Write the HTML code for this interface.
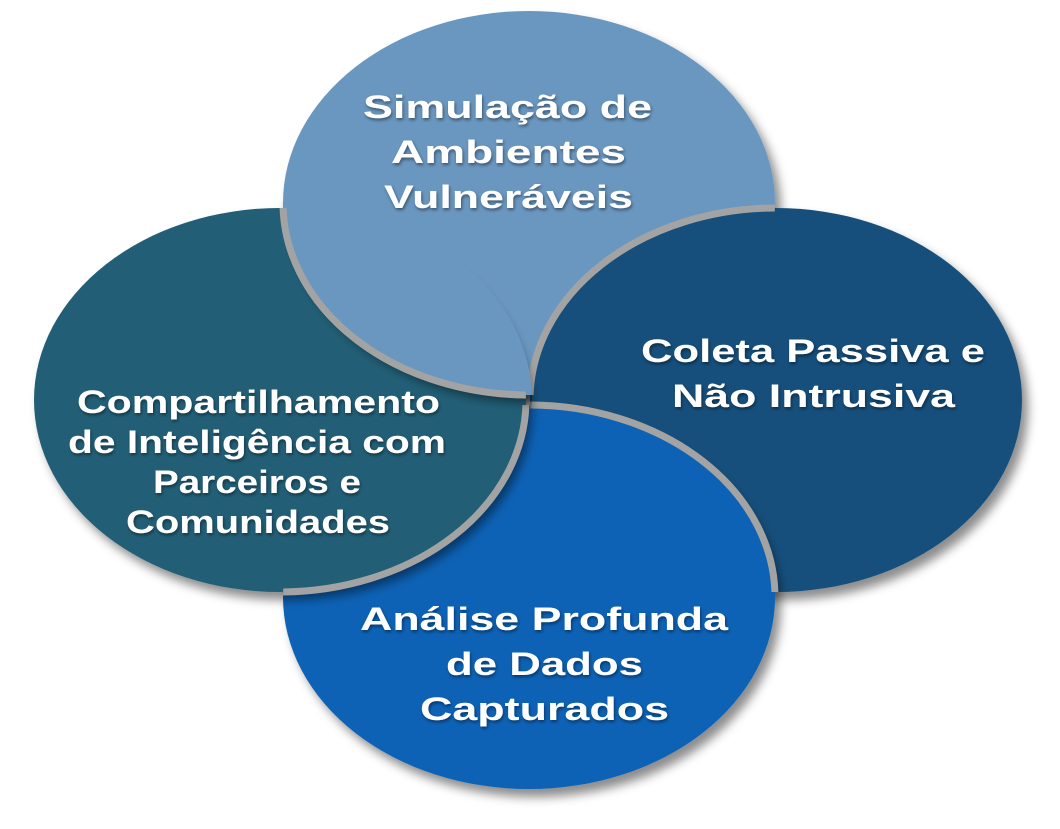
<!DOCTYPE html>
<html><head><meta charset="utf-8"><style>
html,body{margin:0;padding:0;background:#fff;}
svg{display:block;}
text{font-family:"Liberation Sans",Arial,sans-serif;font-weight:bold;font-size:32px;fill:#fff;}
</style></head><body>
<svg width="1060" height="829" viewBox="0 0 1060 829" xmlns="http://www.w3.org/2000/svg">
<defs>
<filter id="sh" x="-10%" y="-10%" width="125%" height="125%">
<feDropShadow dx="6" dy="8" stdDeviation="5" flood-color="#000" flood-opacity="0.45"/>
</filter>
<filter id="ts" x="-5%" y="-20%" width="110%" height="150%">
<feDropShadow dx="1" dy="2" stdDeviation="1.5" flood-color="#000" flood-opacity="0.45"/>
</filter>
<clipPath id="cTop"><ellipse cx="529" cy="203" rx="246" ry="192"/></clipPath>
<clipPath id="cRight"><ellipse cx="776" cy="400" rx="246" ry="192"/></clipPath>
<clipPath id="cBottom"><ellipse cx="529" cy="597" rx="246" ry="192"/></clipPath>
<clipPath id="cLeft"><ellipse cx="280" cy="400" rx="246" ry="192"/></clipPath>
<clipPath id="cLeftBig"><ellipse cx="280" cy="400" rx="252" ry="198"/></clipPath>
</defs>
<!-- top -->
<ellipse cx="529" cy="203" rx="246" ry="192" fill="#6a97c0" filter="url(#sh)"/>
<!-- right over top -->
<ellipse cx="776" cy="400" rx="246" ry="192" fill="#16507b" filter="url(#sh)"/>
<g clip-path="url(#cTop)"><ellipse cx="776" cy="400" rx="246" ry="192" fill="none" stroke="#a3a3a3" stroke-width="7"/></g>
<!-- bottom over right -->
<ellipse cx="529" cy="597" rx="246" ry="192" fill="#0862b6" filter="url(#sh)"/>
<g clip-path="url(#cRight)"><ellipse cx="529" cy="597" rx="246" ry="192" fill="none" stroke="#a3a3a3" stroke-width="7"/></g>
<!-- left over bottom -->
<ellipse cx="280" cy="400" rx="246" ry="192" fill="#215e77" filter="url(#sh)"/>
<g clip-path="url(#cBottom)"><ellipse cx="280" cy="400" rx="246" ry="192" fill="none" stroke="#a3a3a3" stroke-width="7"/></g>
<!-- top over left -->
<g clip-path="url(#cLeftBig)">
<ellipse cx="529" cy="203" rx="246" ry="192" fill="#6a97c0" filter="url(#sh)"/>
</g>
<g clip-path="url(#cLeft)"><ellipse cx="529" cy="203" rx="246" ry="192" fill="none" stroke="#a3a3a3" stroke-width="7"/></g>
<g filter="url(#ts)">
<text x="363" y="118" textLength="289" lengthAdjust="spacingAndGlyphs">Simulação de</text>
<text x="391" y="163" textLength="235" lengthAdjust="spacingAndGlyphs">Ambientes</text>
<text x="384" y="208" textLength="249" lengthAdjust="spacingAndGlyphs">Vulneráveis</text>
<text x="641" y="362" textLength="344" lengthAdjust="spacingAndGlyphs">Coleta Passiva e</text>
<text x="672" y="407" textLength="283" lengthAdjust="spacingAndGlyphs">Não Intrusiva</text>
<text x="77" y="413" textLength="363" lengthAdjust="spacingAndGlyphs">Compartilhamento</text>
<text x="68" y="453" textLength="378" lengthAdjust="spacingAndGlyphs">de Inteligência com</text>
<text x="153" y="493" textLength="208" lengthAdjust="spacingAndGlyphs">Parceiros e</text>
<text x="126" y="533" textLength="264" lengthAdjust="spacingAndGlyphs">Comunidades</text>
<text x="360" y="630" textLength="368" lengthAdjust="spacingAndGlyphs">Análise Profunda</text>
<text x="446" y="675" textLength="197" lengthAdjust="spacingAndGlyphs">de Dados</text>
<text x="420" y="720" textLength="249" lengthAdjust="spacingAndGlyphs">Capturados</text>
</g>
</svg>
</body></html>
